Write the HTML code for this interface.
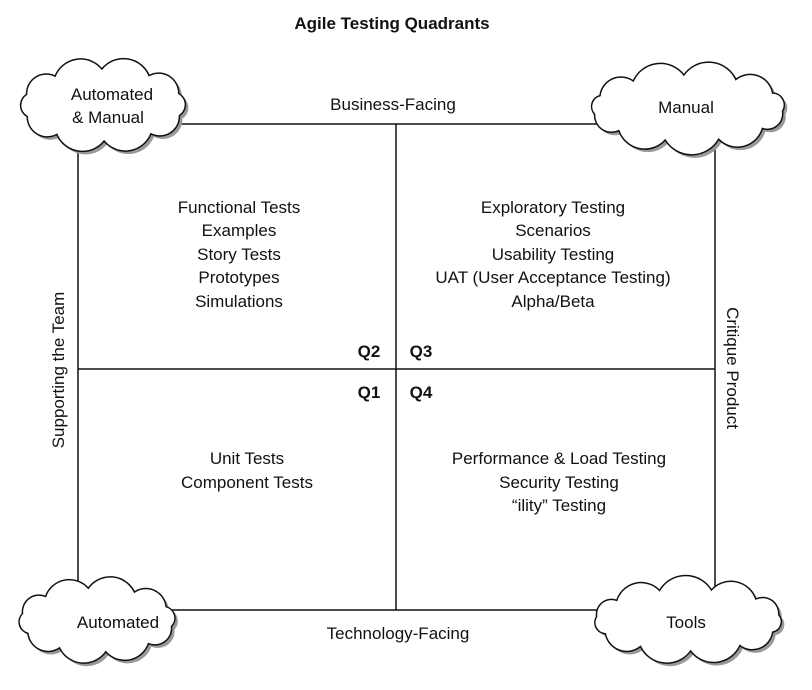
<!DOCTYPE html>
<html><head><meta charset="utf-8"><style>
html,body{margin:0;padding:0;background:#fff;}
svg{display:block;}
text{font-family:"Liberation Sans",sans-serif;font-size:17px;fill:#111;}
</style></head><body>
<svg id="s" width="812" height="690" viewBox="0 0 812 690" xmlns="http://www.w3.org/2000/svg">
<text x="392" y="29" text-anchor="middle" font-weight="bold" style="font-size:17px">Agile Testing Quadrants</text>
<g stroke="#111" stroke-width="1.5" fill="none">
<line x1="78" y1="124" x2="715" y2="124"/>
<line x1="78" y1="610" x2="715" y2="610"/>
<line x1="78" y1="124" x2="78" y2="610"/>
<line x1="715" y1="124" x2="715" y2="610"/>
<line x1="396" y1="124" x2="396" y2="610"/>
<line x1="78" y1="369" x2="715" y2="369"/>
</g>
<rect x="300" y="90" width="190" height="28" fill="#fff"/>
<rect x="290" y="615" width="210" height="30" fill="#fff"/>
<text x="393" y="110" text-anchor="middle">Business-Facing</text>
<text x="398" y="639" text-anchor="middle">Technology-Facing</text>
<g id="clouds"></g>
<text x="112" y="100" text-anchor="middle">Automated</text>
<text x="108" y="123" text-anchor="middle">&amp; Manual</text>
<text x="686" y="113" text-anchor="middle">Manual</text>
<text x="118" y="628" text-anchor="middle">Automated</text>
<text x="686" y="628" text-anchor="middle">Tools</text>
<text transform="translate(64,370) rotate(-90)" text-anchor="middle">Supporting the Team</text>
<text transform="translate(727,368) rotate(90)" text-anchor="middle">Critique Product</text>
<g text-anchor="middle">
<text x="239" y="213">Functional Tests</text>
<text x="239" y="236">Examples</text>
<text x="239" y="260">Story Tests</text>
<text x="239" y="283">Prototypes</text>
<text x="239" y="307">Simulations</text>
<text x="553" y="213">Exploratory Testing</text>
<text x="553" y="236">Scenarios</text>
<text x="553" y="260">Usability Testing</text>
<text x="553" y="283">UAT (User Acceptance Testing)</text>
<text x="553" y="307">Alpha/Beta</text>
<text x="247" y="464">Unit Tests</text>
<text x="247" y="488">Component Tests</text>
<text x="559" y="464">Performance &amp; Load Testing</text>
<text x="559" y="488">Security Testing</text>
<text x="559" y="511">“ility” Testing</text>
</g>
<g font-weight="bold">
<text x="369" y="357" text-anchor="middle" font-weight="bold">Q2</text>
<text x="421" y="357" text-anchor="middle" font-weight="bold">Q3</text>
<text x="369" y="398" text-anchor="middle" font-weight="bold">Q1</text>
<text x="421" y="398" text-anchor="middle" font-weight="bold">Q4</text>
</g>
</svg>
<script>
function cloud(cx,cy,rx,ry,n,ph){
  var pts=[];
  for(var i=0;i<n;i++){var a=ph+i*2*Math.PI/n;pts.push([cx+rx*Math.cos(a),cy+ry*Math.sin(a)]);}
  var d="M"+pts[0][0].toFixed(1)+","+pts[0][1].toFixed(1);
  for(var i=0;i<n;i++){var p=pts[i],q=pts[(i+1)%n];var c=Math.hypot(q[0]-p[0],q[1]-p[1]);var r=c*0.58;
    d+=" A"+r.toFixed(1)+","+r.toFixed(1)+" 0 0 1 "+q[0].toFixed(1)+","+q[1].toFixed(1);}
  return d+"Z";
}
var g=document.getElementById("clouds"),h="";
[[103,105,80,36,10,0.3],[688,108,95,33,11,0.1],[97,620,76,32,10,0.2],[688,620,92,31,11,0.4]].forEach(function(c){
  var d=cloud.apply(null,c);
  h+='<path d="'+d+'" transform="translate(3,3)" fill="#999"/>';
  h+='<path d="'+d+'" fill="#fff" stroke="#111" stroke-width="1.5"/>';
});
g.innerHTML=h;
</script>
</body></html>
